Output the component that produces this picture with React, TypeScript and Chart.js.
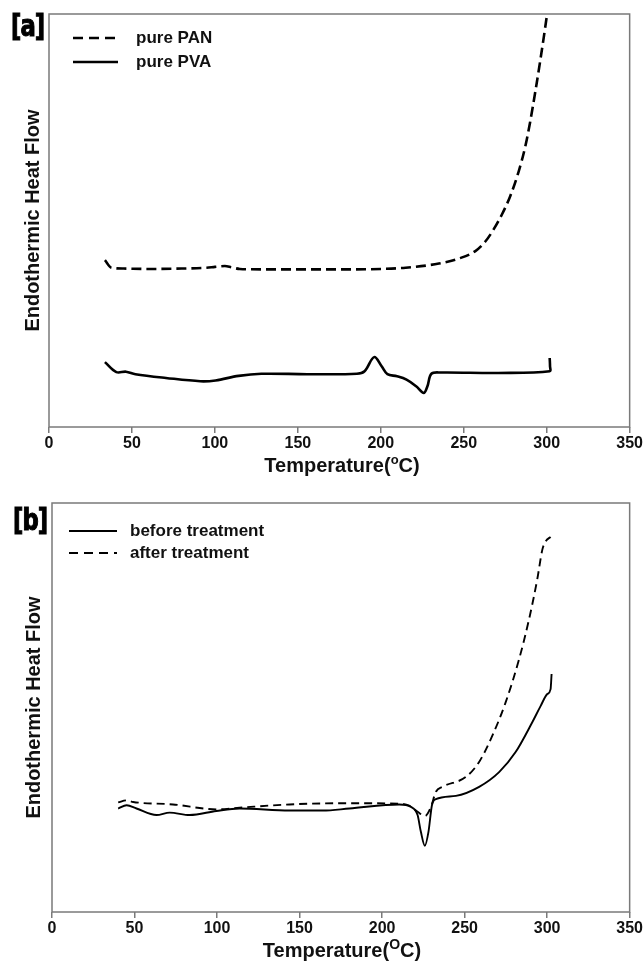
import React, { useEffect, useRef } from "react";
import { Chart, registerables } from "chart.js";

Chart.register(...registerables);

// ---------- data ----------
const X_TICKS = [0, 50, 100, 150, 200, 250, 300, 350];

// panel [a]
const PAN_LABEL = "pure PAN";
const PAN_T = [33.7, 37.7, 45, 60, 80, 95, 100, 106, 110, 115, 130, 150, 175, 200, 215, 235, 247, 257, 263, 268, 273, 278, 283, 287, 290, 293, 296, 299, 302];
const PAN_V = [40.8, 39.0, 38.8, 38.7, 38.8, 39.0, 39.2, 39.4, 39.1, 38.7, 38.6, 38.6, 38.6, 38.7, 39.0, 40.0, 41.2, 43.0, 45.3, 48.2, 51.8, 56.2, 62.0, 68.0, 74.0, 81.0, 88.5, 96.5, 105];

const PVA_LABEL = "pure PVA";
const PVA_T = [33.7, 40.6, 46.4, 52.1, 70.5, 91.2, 100.4, 114.3, 128, 155.7, 185.6, 190.2, 196, 200.5, 204, 209.8, 215.5, 221.3, 225.9, 228.1, 230.5, 236.2, 270.7, 301.8, 302, 301.8];
const PVA_V = [16.3, 13.9, 14.0, 13.4, 12.5, 11.7, 11.9, 13.0, 13.5, 13.4, 13.5, 14.1, 17.5, 15.3, 13.4, 12.9, 12.1, 10.5, 8.9, 10.5, 13.5, 13.8, 13.7, 14.1, 15.3, 17.3];

// panel [b]
const BEFORE_LABEL = "before treatment";
const BEFORE_T = [40.1, 45.2, 51.2, 63.3, 71.3, 83.4, 99.5, 113.6, 143.9, 164, 180.2, 210.4, 217.5, 221.5, 223.5, 225.9, 228.1, 230.2, 232.6, 244.7, 258.8, 270.9, 280.9, 291, 296.1, 300.1, 302.1, 302.7];
const BEFORE_V = [25.3, 26.1, 25.3, 23.7, 24.3, 23.7, 24.7, 25.3, 24.8, 24.8, 25.3, 26.3, 25.7, 23.7, 19.6, 16.2, 19.6, 26.1, 27.6, 28.4, 30.6, 34.2, 39.1, 46.4, 50.4, 53.3, 54.5, 58.2];

const AFTER_LABEL = "after treatment";
const AFTER_T = [40.1, 45.2, 49.2, 73.3, 99.5, 113.6, 143.9, 180.2, 210.4, 216.4, 221.5, 226.1, 229.6, 232.6, 236.6, 250.7, 258.8, 266.8, 274.9, 283, 289, 294, 297.1, 299.1, 302.1];
const AFTER_V = [26.8, 27.3, 26.9, 26.3, 25.1, 25.5, 26.3, 26.6, 26.5, 26.0, 24.5, 23.5, 25.7, 29.4, 30.6, 33.0, 36.7, 43.1, 51.3, 61.8, 71.5, 81.3, 88.6, 90.6, 91.7];

const Y_TITLE = "Endothermic Heat Flow";

// ---------- helpers ----------
const FONT = '"Liberation Sans", Arial, Helvetica, sans-serif';

const zip = (t: number[], v: number[]) => t.map((x, i) => ({ x, y: v[i] }));

type LegendItem = { label: string; dash: number[]; width: number; y: number };

function makeConfig(opts: {
  datasets: any[];
  padTop: number;
  yWidth: number;
  xHeight: number;
  yTitlePad: number;
  yMin: number;
  legend: { x1: number; x2: number; tx: number; items: LegendItem[] };
}) {
  const framePlugin = {
    id: "frameAndLegend",
    afterDraw(chart: any) {
      const { ctx, chartArea } = chart;
      ctx.save();
      ctx.strokeStyle = "#7a7a7a";
      ctx.lineWidth = 1.5;
      ctx.setLineDash([]);
      ctx.strokeRect(chartArea.left, chartArea.top, chartArea.right - chartArea.left, chartArea.bottom - chartArea.top);
      const lg = opts.legend;
      lg.items.forEach((it) => {
        ctx.strokeStyle = "#000";
        ctx.lineWidth = it.width;
        ctx.setLineDash(it.dash);
        ctx.beginPath();
        ctx.moveTo(lg.x1, it.y);
        ctx.lineTo(lg.x2, it.y);
        ctx.stroke();
        ctx.setLineDash([]);
        ctx.fillStyle = "#111";
        ctx.font = `bold 17px ${FONT}`;
        ctx.textBaseline = "middle";
        ctx.textAlign = "left";
        ctx.fillText(it.label, lg.tx, it.y);
      });
      ctx.restore();
    },
  };

  return {
    type: "line" as const,
    data: { datasets: opts.datasets },
    options: {
      animation: false as const,
      responsive: false,
      maintainAspectRatio: false,
      layout: { padding: { left: 0, right: 13, top: opts.padTop, bottom: 0 } },
      elements: { point: { radius: 0 } },
      plugins: { legend: { display: false }, tooltip: { enabled: false } },
      scales: {
        x: {
          type: "linear" as const,
          min: 0,
          max: 350,
          afterBuildTicks: (scale: any) => {
            scale.ticks = X_TICKS.map((v) => ({ value: v }));
          },
          afterFit: (scale: any) => {
            scale.height = opts.xHeight;
          },
          ticks: {
            color: "#111",
            font: { family: FONT, size: 16, weight: "bold" as const },
            padding: 1,
            maxRotation: 0,
            autoSkip: false,
          },
          grid: {
            display: true,
            drawOnChartArea: false,
            drawTicks: true,
            tickLength: 6,
            color: "#7a7a7a",
            lineWidth: 1.5,
          },
          border: { display: false },
        },
        y: {
          type: "linear" as const,
          min: opts.yMin,
          max: 100,
          afterFit: (scale: any) => {
            scale.width = opts.yWidth;
          },
          ticks: { display: false },
          grid: { display: false },
          border: { display: false },
          title: {
            display: true,
            text: Y_TITLE,
            color: "#111",
            font: { family: FONT, size: 20, weight: "bold" as const },
            padding: { top: opts.yTitlePad, bottom: 0 },
          },
        },
      },
    },
    plugins: [framePlugin],
  };
}

function Panel(props: { config: any; top: number }) {
  const ref = useRef<HTMLCanvasElement | null>(null);
  useEffect(() => {
    if (!ref.current) return;
    const chart = new Chart(ref.current, props.config);
    return () => chart.destroy();
  }, []);
  return (
    <canvas
      ref={ref}
      width={644}
      height={484}
      style={{ position: "absolute", left: 0, top: props.top, width: 644, height: 484 }}
    />
  );
}

const lineDs = (label: string, t: number[], v: number[], dash: number[], width: number, monotone: boolean) => ({
  label,
  data: zip(t, v),
  borderColor: "#000",
  backgroundColor: "#000",
  borderWidth: width,
  borderDash: dash,
  tension: 0.35,
  cubicInterpolationMode: monotone ? ("monotone" as const) : ("default" as const),
  fill: false,
  pointRadius: 0,
});

const configA = makeConfig({
  datasets: [
    lineDs(PAN_LABEL, PAN_T, PAN_V, [10, 5], 2.6, true),
    lineDs(PVA_LABEL, PVA_T, PVA_V, [], 2.6, false),
  ],
  padTop: 14,
  yWidth: 49,
  xHeight: 484 - 427,
  yTitlePad: 21,
  yMin: 0.7,
  legend: {
    x1: 73,
    x2: 118,
    tx: 136,
    items: [
      { label: PAN_LABEL, dash: [10, 6], width: 2.6, y: 38 },
      { label: PVA_LABEL, dash: [], width: 2.6, y: 62 },
    ],
  },
});

const configB = makeConfig({
  datasets: [
    lineDs(BEFORE_LABEL, BEFORE_T, BEFORE_V, [], 1.9, true),
    lineDs(AFTER_LABEL, AFTER_T, AFTER_V, [8, 5], 1.9, true),
  ],
  padTop: 503 - 484,
  yWidth: 52,
  xHeight: 968 - 912,
  yTitlePad: 22,
  yMin: 0,
  legend: {
    x1: 69,
    x2: 117,
    tx: 130,
    items: [
      { label: BEFORE_LABEL, dash: [], width: 1.9, y: 531 - 484 },
      { label: AFTER_LABEL, dash: [9, 6], width: 1.9, y: 553 - 484 },
    ],
  },
});

const tagStyle = (left: number, top: number): React.CSSProperties => ({
  position: "absolute",
  left,
  top,
  fontFamily: '"Liberation Sans Narrow", "DejaVu Sans Condensed", Arial, sans-serif',
  fontWeight: "bold",
  fontSize: 28,
  lineHeight: "22px",
  transform: "scale(0.9, 1.05)",
  transformOrigin: "top left",
  color: "#000",
  letterSpacing: -1,
  WebkitTextStroke: "1px #000",
});

const xTitleStyle = (centerX: number, top: number): React.CSSProperties => ({
  position: "absolute",
  left: centerX - 150,
  width: 300,
  top,
  textAlign: "center",
  fontFamily: FONT,
  fontWeight: "bold",
  fontSize: 20,
  lineHeight: "24px",
  color: "#111",
});

export default function App() {
  return (
    <div style={{ position: "absolute", left: 0, top: 0, width: 644, height: 968, background: "#fff", overflow: "hidden" }}>
      <Panel config={configA} top={0} />
      <Panel config={configB} top={484} />
      <div style={tagStyle(11, 15)}>[a]</div>
      <div style={tagStyle(13, 509)}>[b]</div>
      <div style={xTitleStyle(342, 453)}>
        Temperature(<sup style={{ fontSize: 13, verticalAlign: "8px", lineHeight: 0 }}>o</sup>C)
      </div>
      <div style={xTitleStyle(342, 938)}>
        Temperature(<sup style={{ fontSize: 14, verticalAlign: "8px", lineHeight: 0 }}>O</sup>C)
      </div>
    </div>
  );
}
